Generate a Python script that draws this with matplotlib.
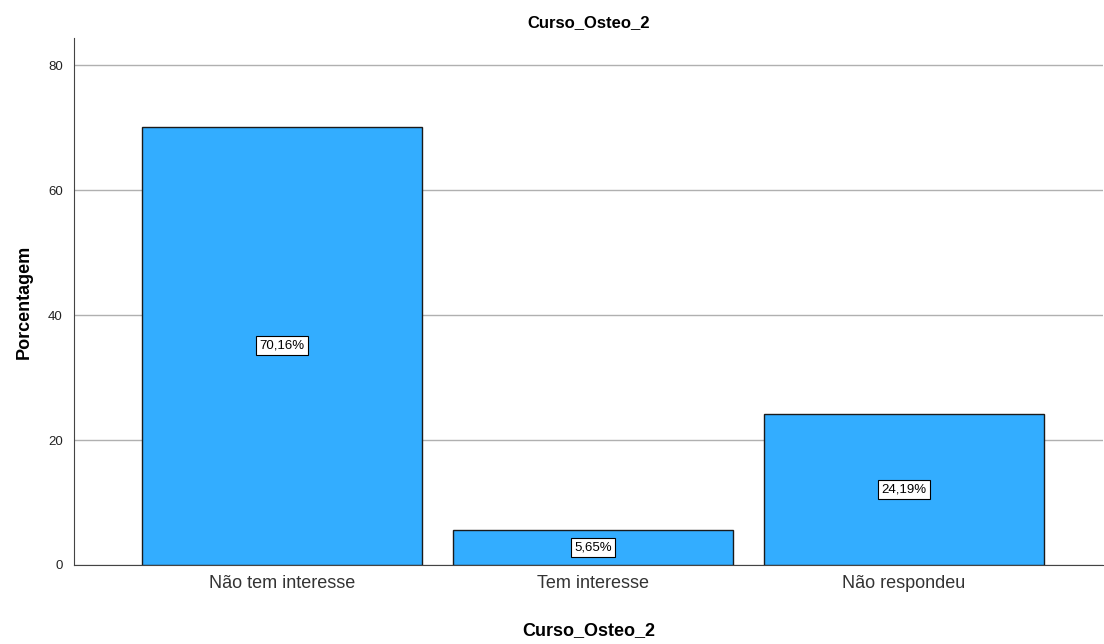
import matplotlib.pyplot as plt

plt.rcParams['font.family'] = ['Liberation Sans', 'DejaVu Sans']

categorias = ["Não tem interesse", "Tem interesse", "Não respondeu"]
porcentagens = [70.16, 5.65, 24.19]
rotulos = ["70,16%", "5,65%", "24,19%"]

fig = plt.figure(figsize=(11.04, 6.44), dpi=100)
ax = fig.add_axes([0.067, 0.1227, 0.932, 0.818])

x = range(len(categorias))
ax.bar(x, porcentagens, width=0.9, color="#33adff", edgecolor="#1a1a1a", linewidth=1, zorder=3)

for i, v in enumerate(porcentagens):
    ax.text(i, v / 2, rotulos[i], ha="center", va="center", fontsize=9.5, zorder=4,
            bbox=dict(boxstyle="square,pad=0.25", facecolor="white", edgecolor="black", linewidth=0.8))

ax.set_xlim(-0.67, 2.64)
ax.set_ylim(0, 84.3)
ax.set_yticks([0, 20, 40, 60, 80])
ax.set_xticks(list(x))
ax.set_xticklabels(categorias, fontsize=13, color="#333333")
ax.tick_params(axis="y", length=0, labelsize=9.5, colors="#222222", pad=8)
ax.tick_params(axis="x", length=0, pad=7)
ax.yaxis.grid(True, color="#b0b0b0", linewidth=1, zorder=0)

for s in ["top", "right"]:
    ax.spines[s].set_visible(False)
ax.spines["left"].set_color("#444444")
ax.spines["bottom"].set_color("#444444")

ax.set_title("Curso_Osteo_2", fontsize=12, fontweight="bold", pad=8)
ax.set_xlabel("Curso_Osteo_2", fontsize=13, fontweight="bold", labelpad=22)
ax.set_ylabel("Porcentagem", fontsize=13, fontweight="bold", labelpad=11)

plt.savefig("out.png", dpi=100)
